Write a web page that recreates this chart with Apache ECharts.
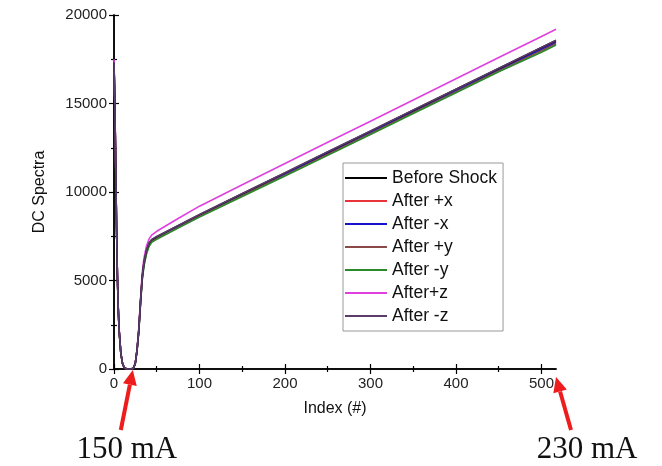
<!DOCTYPE html>
<html>
<head>
<meta charset="utf-8">
<script src="https://cdn.jsdelivr.net/npm/echarts@6/dist/echarts.min.js"></script>
<style>
html,body{margin:0;padding:0;background:#fff;}
#chart{width:662px;height:466px;}
</style>
</head>
<body>
<div id="chart"></div>
<script>
// ---- data ----
const seriesNames = ['Before Shock','After +x','After -x','After +y','After -y','After+z','After -z'];
const idx = [0,1,2,3,4,5,6,8,10,12,15,20,23,25,27,29,31,33,35,38,41,44,50,75,100,150,200,250,300,350,400,450,500,517];
const beforeShock = [17300,15000,11500,8000,5200,3400,2200,900,300,80,0,0,60,350,1100,2200,3800,5200,6000,6700,7100,7300,7480,8100,8720,9900,11080,12260,13440,14620,15800,16980,18160,18560];
const afterPx = [17280,14980,11480,7990,5190,3390,2190,895,298,78,0,0,58,345,1090,2180,3770,5160,5950,6660,7060,7260,7440,8060,8680,9860,11030,12210,13390,14570,15750,16930,18100,18500];
const afterMx = [17260,14960,11460,7980,5180,3380,2180,890,296,77,0,0,57,340,1080,2160,3740,5120,5910,6620,7020,7230,7410,8030,8650,9830,10990,12170,13350,14530,15710,16890,18050,18450];
const afterPy = [17240,14940,11440,7970,5170,3370,2170,885,294,76,0,0,56,335,1070,2140,3710,5080,5870,6580,6990,7200,7380,8000,8620,9800,10950,12120,13300,14480,15660,16840,17980,18380];
const afterMy = [17200,14900,11400,7950,5150,3350,2150,880,290,75,0,0,55,330,1050,2100,3650,5000,5800,6500,6920,7150,7330,7960,8580,9750,10900,12070,13250,14430,15610,16790,17900,18300];
const afterPz = [17500,15200,11700,8100,5300,3450,2250,920,310,85,0,0,65,370,1150,2300,3950,5400,6250,6950,7350,7560,7780,8500,9200,10410,11610,12810,14000,15200,16400,17600,18790,19190];
const afterMz = [17320,15020,11520,8010,5210,3410,2210,905,302,81,0,0,61,352,1105,2210,3810,5210,6010,6710,7110,7310,7490,8110,8730,9910,11090,12270,13450,14630,15810,16990,18170,18570];
const seriesValues = [beforeShock, afterPx, afterMx, afterPy, afterMy, afterPz, afterMz];
const seriesColors = ['#000000','#e8333a','#1414c8','#8a4a4a','#2a8a2a','#e040e0','#5a3d6a'];
const xMajor = [0,100,200,300,400,500];
const xMinor = [50,150,250,350,450];
const yMajor = [0,5000,10000,15000,20000];
const yMinor = [2500,7500,12500,17500];
const xMax = 517;

const chart = echarts.init(document.getElementById('chart'));
const lineStyle = {color:'#000', width:1.5};
const lblStyle = {fontFamily:'Liberation Sans, Arial', fontSize:15, color:'#222', formatter:(v)=>String(v)};

function xAx(pos, ticks, len, showLine, showLabel, extra){
  return Object.assign({
    type:'value', position:pos, min:0, max:xMax,
    axisLine:{show:showLine, lineStyle:lineStyle},
    axisTick:{show:true, inside:true, length:len, customValues:ticks, lineStyle:{color:'#000', width:1.2}},
    axisLabel:{show:showLabel, customValues:xMajor, margin:7, ...lblStyle},
    splitLine:{show:false}
  }, extra||{});
}
function yAx(pos, ticks, len, showLine, showLabel, extra){
  return Object.assign({
    type:'value', position:pos, min:0, max:20000,
    axisLine:{show:showLine, lineStyle:lineStyle},
    axisTick:{show:true, inside:true, length:len, customValues:ticks, lineStyle:{color:'#000', width:1.2}},
    axisLabel:{show:showLabel, customValues:yMajor, margin:7, ...lblStyle},
    splitLine:{show:false}
  }, extra||{});
}

const option = {
  backgroundColor:'#fff',
  animation:false,
  grid:{left:114, right:106, top:15, bottom:97},
  xAxis:[
    xAx('bottom', xMajor, 5, true, true, {name:'Index (#)', nameLocation:'middle', nameGap:32,
      nameTextStyle:{fontFamily:'Liberation Sans, Arial', fontSize:16, color:'#111'}}),
    xAx('bottom', xMinor, 3, false, false),
    xAx('top', xMajor, 5, true, false),
    xAx('top', xMinor, 3, false, false)
  ],
  yAxis:[
    yAx('left', yMajor, 5, true, true, {name:'DC Spectra', nameLocation:'middle', nameGap:66,
      nameTextStyle:{fontFamily:'Liberation Sans, Arial', fontSize:16, color:'#111'}}),
    yAx('left', yMinor, 3, false, false),
    yAx('right', yMajor, 5, true, false),
    yAx('right', yMinor, 3, false, false)
  ],
  legend:{
    orient:'vertical', left:343, top:163,
    data:seriesNames,
    icon:'rect', itemWidth:42, itemHeight:2, itemGap:5,
    backgroundColor:'#fff', borderColor:'#999', borderWidth:1,
    padding:[6,6,6,2],
    textStyle:{fontFamily:'Liberation Sans, Arial', fontSize:17.5, color:'#111', lineHeight:18, padding:[0,0,0,0]}
  },
  series: seriesNames.map((n,i)=>({
    name:n, type:'line', xAxisIndex:0, yAxisIndex:0,
    data: idx.map((x,j)=>[x, seriesValues[i][j]]),
    showSymbol:false, symbol:'none',
    lineStyle:{color:seriesColors[i], width:1.6},
    itemStyle:{color:seriesColors[i]},
    z: (n==='Before Shock'||n==='After -z') ? 3 : 2
  }))
};
chart.setOption(option);

// annotation arrows
function arrow(tip, tail, color){
  const dx = tip[0]-tail[0], dy = tip[1]-tail[1];
  const L = Math.sqrt(dx*dx+dy*dy), ux = dx/L, uy = dy/L;
  const hl = 15, hw = 7;
  const bx = tip[0]-ux*hl, by = tip[1]-uy*hl;
  return [
    {type:'line', shape:{x1:tail[0], y1:tail[1], x2:bx, y2:by}, style:{stroke:color, lineWidth:4}},
    {type:'polygon', shape:{points:[[tip[0],tip[1]],[bx-uy*hw, by+ux*hw],[bx+uy*hw, by-ux*hw]]}, style:{fill:color}}
  ];
}
const t1 = chart.convertToPixel({xAxisIndex:0, yAxisIndex:0}, [22, 0]);
const t2 = chart.convertToPixel({xAxisIndex:0, yAxisIndex:0}, [xMax, 0]);
const tip1 = [t1[0], t1[1]+1];
const tip2 = [t2[0], t2[1]+8];
const red = '#ee1c1c';
const g = [].concat(
  arrow(tip1, [tip1[0]-12, tip1[1]+60], red),
  arrow(tip2, [tip2[0]+15, tip2[1]+53], red),
  [
    {type:'text', x:tip1[0]-6, y:tip1[1]+80, style:{text:'150 mA', font:'31px "Liberation Serif", "Times New Roman", serif', fill:'#111', align:'center', verticalAlign:'middle'}},
    {type:'text', x:tip2[0]+31, y:tip2[1]+73, style:{text:'230 mA', font:'31px "Liberation Serif", "Times New Roman", serif', fill:'#111', align:'center', verticalAlign:'middle'}}
  ]
);
chart.setOption({graphic:g});
</script>
</body>
</html>
